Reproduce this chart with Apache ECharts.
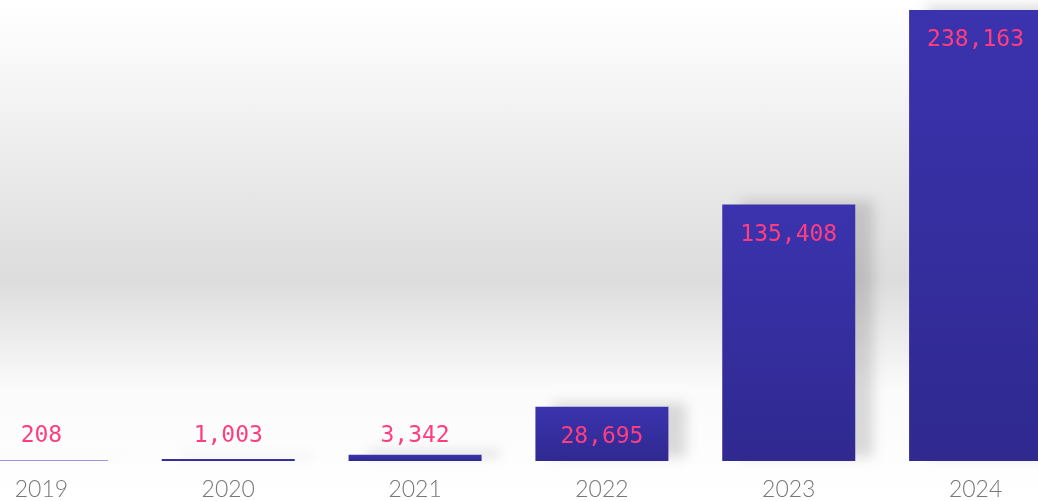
<!DOCTYPE html>
<html>
<head>
<meta charset="utf-8">
<script src="https://cdn.jsdelivr.net/npm/echarts@6/dist/echarts.min.js"></script>
<style>
  html, body { margin: 0; padding: 0; }
  #chart {
    width: 1038px; height: 501px;
    background: linear-gradient(to bottom, #ffffff 0px, #fbfbfb 40px, #dcdcdc 280px, #fbfbfb 390px, #ffffff 501px);
  }
</style>
</head>
<body>
<div id="chart"></div>
<script>
// 年份
var years = ["2019", "2020", "2021", "2022", "2023", "2024"]
// 数值
var values = [208, 1003, 3342, 28695, 135408, 238163]

var chart = echarts.init(document.getElementById("chart"))

var labelBase = {
  show: true,
  color: "#ff3d7f",
  fontFamily: "DejaVu Sans Mono",
  fontSize: 23,
  formatter: function (p) { return p.value.toLocaleString("en-US") }
}

var seriesData = values.map(function (v) {
  // 小柱子标签放在下方固定位置
  var small = v < 20000
  return {
    value: v,
    label: small
      ? { position: "insideBottom", distance: 13 }
      : { position: "insideTop", distance: 19 }
  }
})

chart.setOption({
  animation: false,
  grid: { left: -52, right: -31, top: 10, bottom: 40, outerBoundsMode: "none" },
  xAxis: {
    type: "category",
    data: years,
    axisLine: { show: false },
    axisTick: { show: false },
    axisLabel: {
      color: "#777",
      fontFamily: "Lato",
      fontWeight: 300,
      fontSize: 23,
      margin: 17
    }
  },
  yAxis: {
    type: "value",
    min: 0,
    max: 238163,
    show: false,
    splitLine: { show: false }
  },
  series: [{
    type: "bar",
    data: seriesData,
    barWidth: 133,
    itemStyle: {
      color: new echarts.graphic.LinearGradient(0, 0, 0, 1, [
        { offset: 0, color: "#3b33ae" },
        { offset: 1, color: "#2f2990" }
      ]),
      shadowColor: "rgba(0,0,0,0.14)",
      shadowBlur: 12,
      shadowOffsetX: 18,
      shadowOffsetY: -4
    },
    label: labelBase
  }]
})
</script>
</body>
</html>
